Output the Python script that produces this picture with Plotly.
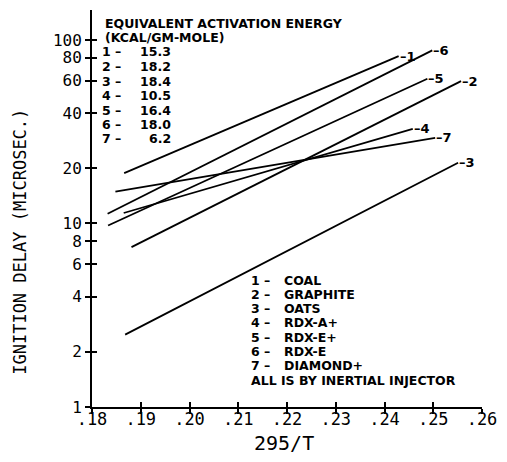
import numpy as np
import plotly.graph_objects as go

# ---- data ----
line_ids = ["1", "2", "3", "4", "5", "6", "7"]
x_start = [0.1866, 0.1881, 0.1868, 0.1865, 0.1833, 0.1832, 0.1848]
x_end = [0.2429, 0.2557, 0.2551, 0.2458, 0.2488, 0.2498, 0.2504]
y_start = [18.8, 7.43, 2.48, 11.4, 9.75, 11.3, 14.9]
y_end = [81.6, 59.6, 21.4, 32.8, 61.4, 87.7, 29.3]

energies = ["15.3", "18.2", "18.4", "10.5", "16.4", "18.0", "6.2"]
materials = ["COAL", "GRAPHITE", "OATS", "RDX-A+", "RDX-E+", "RDX-E", "DIAMOND+"]

x_ticks = [0.18, 0.19, 0.20, 0.21, 0.22, 0.23, 0.24, 0.25, 0.26]
x_tick_text = [".18", ".19", ".20", ".21", ".22", ".23", ".24", ".25", ".26"]
y_ticks = [1, 2, 4, 6, 8, 10, 20, 40, 60, 80, 100]
y_tick_text = ["1", "2", "4", "6", "8", "10", "20", "40", "60", "80", "100"]

# ---- layout geometry ----
W, H = 507, 462
ML, MR, MT, MB = 92, 10, 10, 55
PW, PH = W - ML - MR, H - MT - MB


def px(x):
    return (x - ML) / PW


def py(y):
    return (H - MB - y) / PH


fig = go.Figure()
for i, lid in enumerate(line_ids):
    fig.add_trace(go.Scatter(
        x=[x_start[i], x_end[i]], y=[y_start[i], y_end[i]],
        mode="lines", line=dict(color="black", width=1.8),
        showlegend=False, hoverinfo="skip", xaxis="x", yaxis="y"))

lab_font = dict(family="DejaVu Sans", size=12.5, color="black", weight="bold")
annotations = []
# end labels
for i, lid in enumerate(line_ids):
    annotations.append(dict(
        x=x_end[i], y=np.log10(y_end[i]), xref="x", yref="y",
        text="–" + lid, showarrow=False, xanchor="left", yanchor="middle",
        xshift=-1, font=dict(family="DejaVu Sans", size=13, color="black", weight="bold")))

# activation energy block
annotations.append(dict(x=px(103), y=py(23), xref="paper", yref="paper",
                        text="EQUIVALENT ACTIVATION ENERGY", showarrow=False,
                        xanchor="left", yanchor="middle", font=lab_font))
annotations.append(dict(x=px(103), y=py(37), xref="paper", yref="paper",
                        text="(KCAL/GM-MOLE)", showarrow=False,
                        xanchor="left", yanchor="middle", font=lab_font))
for i, lid in enumerate(line_ids):
    yy = 52 + 14.5 * i
    annotations.append(dict(x=px(100), y=py(yy), xref="paper", yref="paper",
                            text=lid + " –", showarrow=False,
                            xanchor="left", yanchor="middle", font=lab_font))
    annotations.append(dict(x=px(176), y=py(yy), xref="paper", yref="paper",
                            text=energies[i], showarrow=False,
                            xanchor="right", yanchor="middle", font=lab_font))

# material legend block
for i, lid in enumerate(line_ids):
    yy = 280 + 14.3 * i
    annotations.append(dict(x=px(255), y=py(yy), xref="paper", yref="paper",
                            text=lid + " –", showarrow=False,
                            xanchor="left", yanchor="middle", font=lab_font))
    annotations.append(dict(x=px(289), y=py(yy), xref="paper", yref="paper",
                            text=materials[i], showarrow=False,
                            xanchor="left", yanchor="middle", font=lab_font))
annotations.append(dict(x=px(255), y=py(380), xref="paper", yref="paper",
                        text="ALL IS BY INERTIAL INJECTOR", showarrow=False,
                        xanchor="left", yanchor="middle", font=lab_font))

# axis titles
annotations.append(dict(x=px(17), y=py(242), xref="paper", yref="paper",
                        text="IGNITION DELAY (MICROSEC.)", showarrow=False,
                        textangle=-90, xanchor="center", yanchor="middle",
                        font=dict(family="DejaVu Sans Mono", size=17, color="black")))
annotations.append(dict(x=px(291), y=py(443), xref="paper", yref="paper",
                        text="295/T", showarrow=False,
                        xanchor="center", yanchor="middle",
                        font=dict(family="DejaVu Sans Mono", size=20, color="black")))

x_range = [0.18, 0.26]
y_range = [0, 2.163]

fig.update_layout(
    width=W, height=H,
    margin=dict(l=ML, r=MR, t=MT, b=MB),
    paper_bgcolor="white", plot_bgcolor="white",
    showlegend=False,
    annotations=annotations,
    xaxis=dict(range=x_range, tickvals=x_ticks, ticktext=x_tick_text,
               showgrid=False, zeroline=False, showline=True,
               linecolor="black", linewidth=2, ticks="outside", ticklen=5,
               tickwidth=2, tickcolor="black", ticklabeloverflow="allow",
               ticklabelstandoff=-9,
               tickfont=dict(family="DejaVu Sans Mono", size=17, color="black")),
    yaxis=dict(type="log", range=y_range, tickvals=y_ticks, ticktext=y_tick_text,
               showgrid=False, zeroline=False, showline=True,
               linecolor="black", linewidth=2, ticks="outside", ticklen=5,
               tickwidth=2, tickcolor="black",
               tickfont=dict(family="DejaVu Sans Mono", size=16, color="black")),
    xaxis2=dict(range=x_range, tickvals=x_ticks, overlaying="x", anchor="y",
                showticklabels=False, showgrid=False, zeroline=False,
                showline=False, ticks="inside", ticklen=5, tickwidth=2,
                tickcolor="black"),
    yaxis2=dict(type="log", range=y_range, tickvals=y_ticks, overlaying="y",
                anchor="x", side="left", showticklabels=False, showgrid=False,
                zeroline=False, showline=False, ticks="inside", ticklen=5,
                tickwidth=2, tickcolor="black"),
)
# invisible trace so overlay axes are drawn
fig.add_trace(go.Scatter(x=[x_start[0]], y=[y_start[0]], xaxis="x2", yaxis="y2",
                         mode="markers", marker=dict(opacity=0), showlegend=False,
                         hoverinfo="skip"))

fig.write_html("out.html", config={"displayModeBar": False},
               post_script="document.body.style.margin='0';document.body.style.overflow='hidden';")
